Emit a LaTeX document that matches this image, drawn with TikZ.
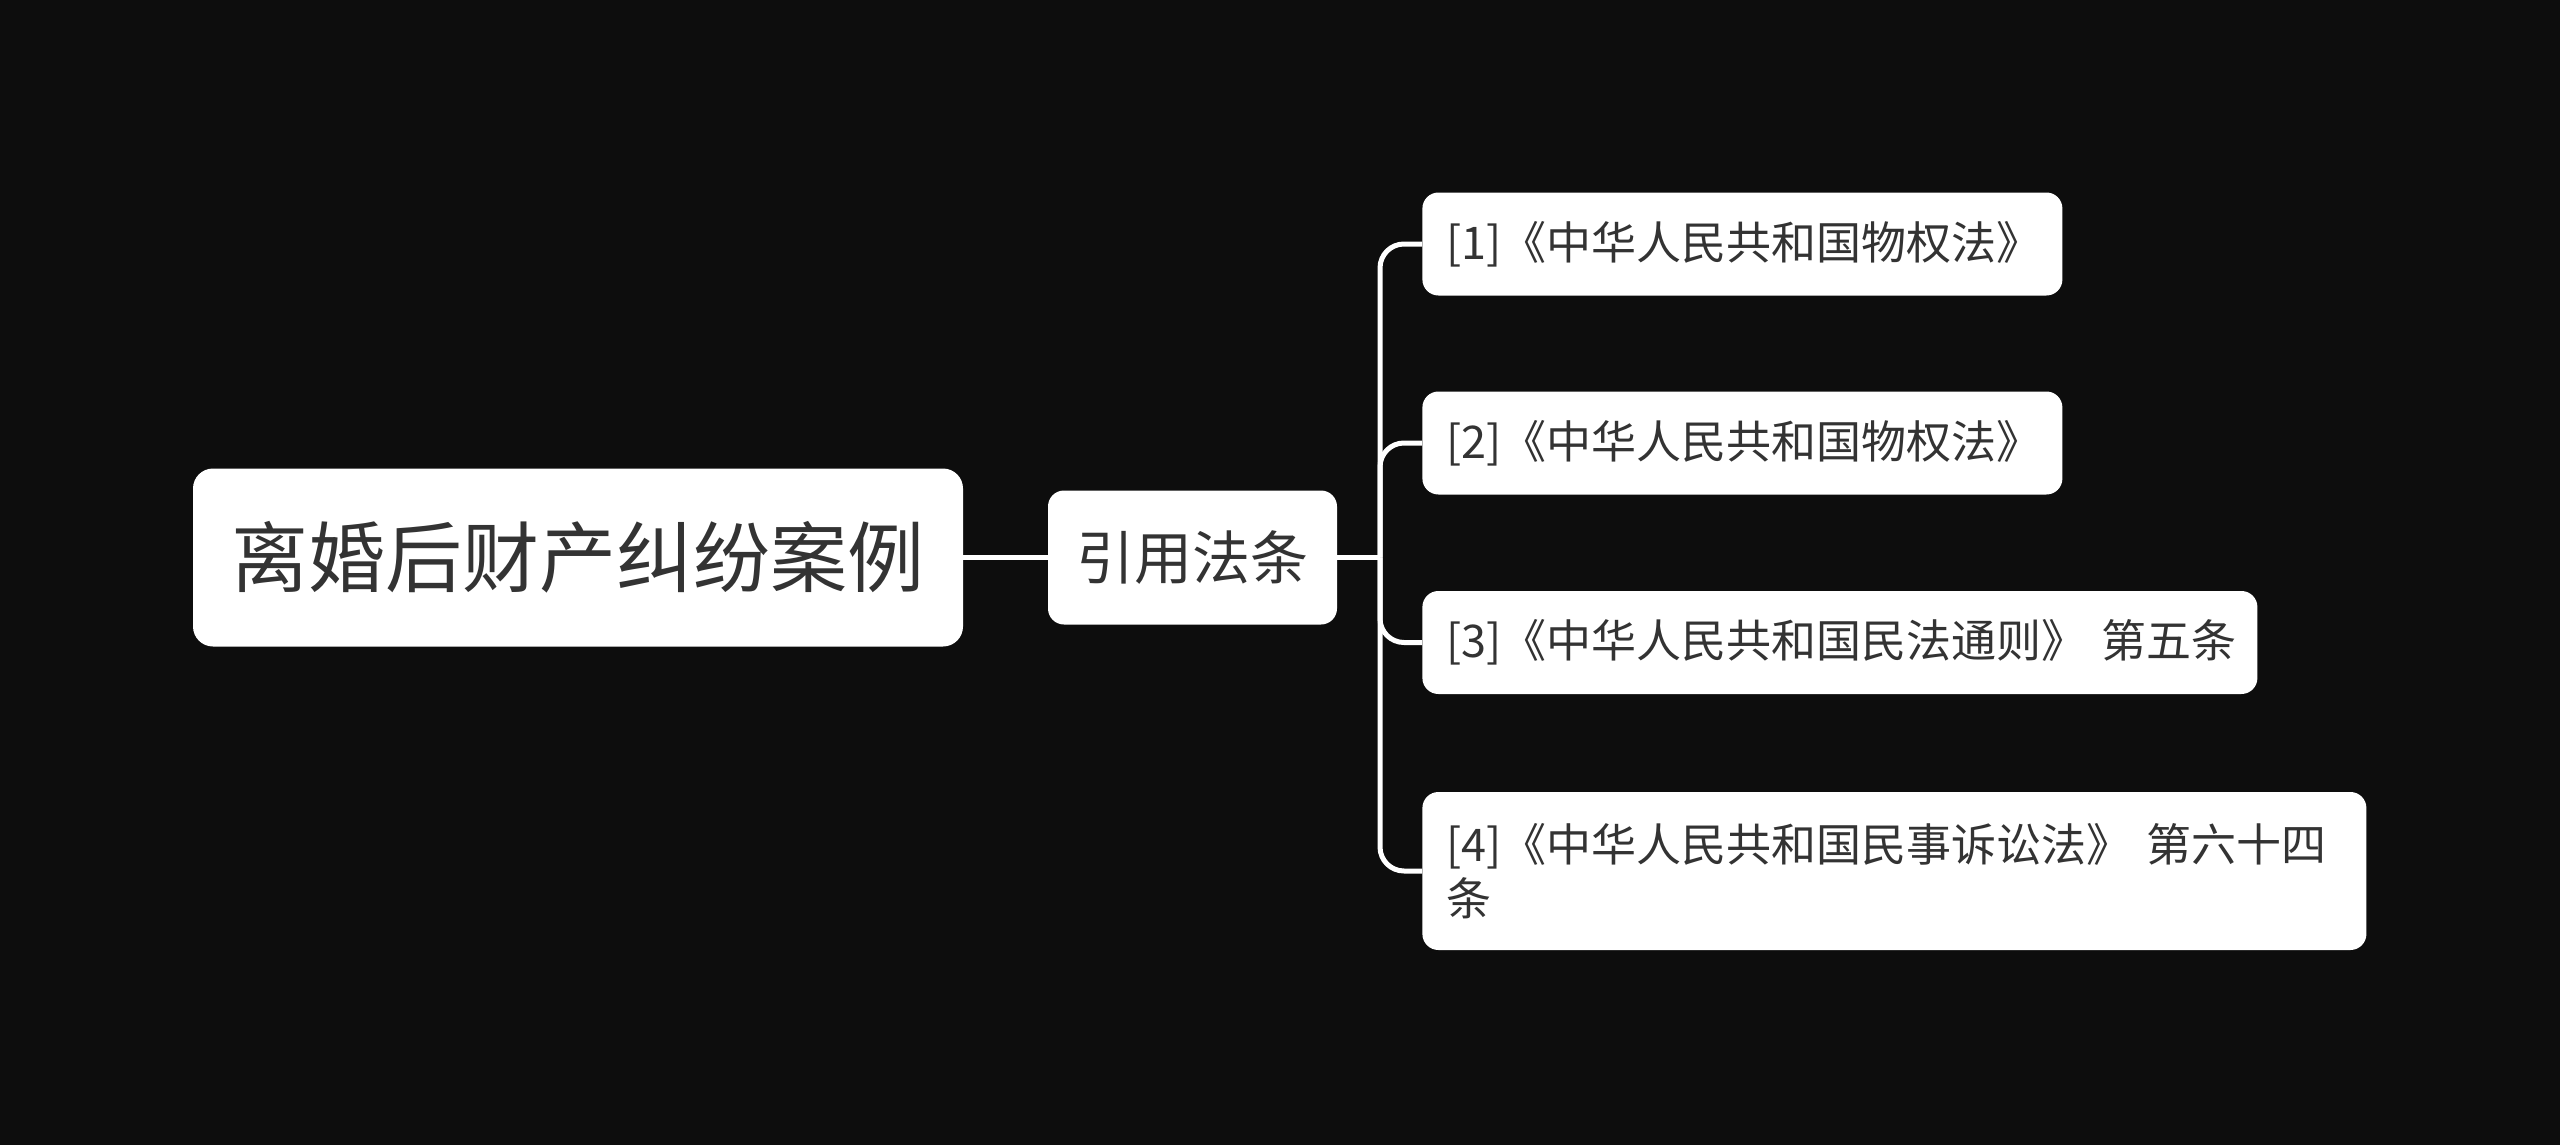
\documentclass[tikz,border=0pt]{standalone}
\usepackage{fontspec}
\setmainfont{Noto Sans CJK SC}
\usepackage{tikz}
\usetikzlibrary{positioning, calc}

\definecolor{canvas}{HTML}{0D0D0D}
\definecolor{ink}{HTML}{333333}

\begin{document}
\begin{tikzpicture}[x=0.5pt, y=-0.5pt,
  box/.style={draw=none, fill=white, text=ink, rounded corners=8pt},
  topic/.style={box, rounded corners=10pt, minimum width=385pt, minimum height=89pt, font=\fontsize{38.5}{46}\selectfont},
  branch/.style={box, minimum width=144.5pt, minimum height=67pt, font=\fontsize{29}{35}\selectfont},
  law/.style={box, anchor=west, align=left, inner xsep=12pt, minimum height=51.5pt, font=\fontsize{22.5}{27}\selectfont},
  link/.style={draw=white, line width=2.5pt}]
  \fill[canvas] (0,0) rectangle (2560,1145);
  \node[topic] (case) at (578,557.5) {离婚后财产纠纷案例};
  \node[branch] (cite) at (1192.5,557.5) {引用法条};
  \node[law, text width=296pt] (law1) at (1422,244) {[1]《中华人民共和国物权法》};
  \node[law, text width=296pt] (law2) at (1422,443) {[2]《中华人民共和国物权法》};
  \node[law, text width=393.5pt] (law3) at (1422,642.5) {[3]《中华人民共和国民法通则》~第五条};
  \node[law, text width=448pt, minimum height=79pt] (law4) at (1422,871) {[4]《中华人民共和国民事诉讼法》~第六十四\\条};
  \coordinate (fork) at (1380,557.5);
  \draw[link] (case.east) -- (cite.west);
  \draw[link] (cite.east) -- (fork);
  \foreach \n in {law1, law2, law3, law4}
    \draw[link, rounded corners=12pt] (fork) |- (\n.west);
\end{tikzpicture}
\end{document}
